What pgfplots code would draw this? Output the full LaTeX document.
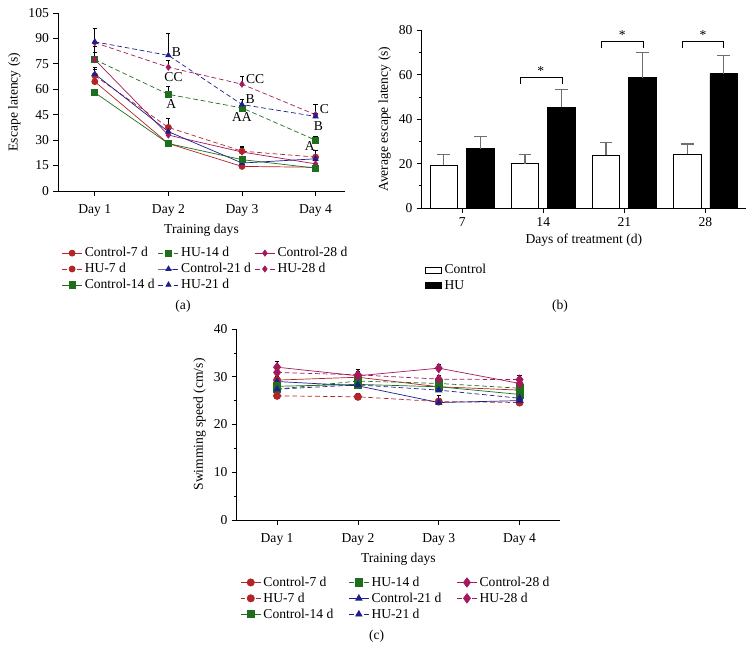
\documentclass[border=0pt]{standalone}
\usepackage{fontspec}
\setmainfont{Liberation Serif}
\usepackage{pgfplots}
\pgfplotsset{compat=1.18}

\definecolor{cred}{HTML}{B02528}
\definecolor{cgreen}{HTML}{1E6E1E}
\definecolor{cblue}{HTML}{1F1F8C}
\definecolor{cmag}{HTML}{A3195B}
\definecolor{errgray}{HTML}{6E6E6E}

\newcommand{\fs}{\fontsize{11.6}{13.8}\selectfont}

\pgfplotsset{
  panel/.style={
    scale only axis, axis lines=left, axis line style={-, line width=0.6pt},
    tick align=outside, tick style={black, line width=0.6pt},
    major tick length=0.15cm, minor tick length=0.09cm,
    font=\fs, clip=false,
    /pgf/number format/assume math mode=true,
    legend cell align=left,
  },
  dashes/.style={dash pattern=on 4pt off 2.5pt},
  errs/.style={error bars/.cd, y dir=plus, y explicit,
    error bar style={solid, black, line width=0.6pt},
    error mark options={solid, black, rotate=90, mark size=1.8pt, line width=0.6pt}},
  berrs/.style={error bars/.cd, y dir=plus, y explicit,
    error bar style={solid, errgray, line width=1pt},
    error mark options={solid, errgray, rotate=90, mark size=5.5pt, line width=1pt}},
  c7/.style={cred, solid, line width=0.6pt, mark=*, mark options={solid}},
  h7/.style={cred, dashes, line width=0.6pt, mark=*, mark options={solid}},
  c14/.style={cgreen, solid, line width=0.6pt, mark=square*, mark options={solid}},
  h14/.style={cgreen, dashes, line width=0.6pt, mark=square*, mark options={solid}},
  c21/.style={cblue, solid, line width=0.6pt, mark=triangle*, mark options={solid}},
  h21/.style={cblue, dashes, line width=0.6pt, mark=triangle*, mark options={solid}},
  c28/.style={cmag, solid, line width=0.6pt, mark=diamond*, mark options={solid}},
  h28/.style={cmag, dashes, line width=0.6pt, mark=diamond*, mark options={solid}},
}

\begin{document}
\begin{tikzpicture}
\useasboundingbox (0,0) rectangle (22.65,19.86);

% ---------- (a) escape latency ----------
\begin{axis}[panel,
  at={(1.74cm,14.13cm)}, anchor=south west,
  width=8.61cm, height=5.34cm,
  xmin=0.5, xmax=4.4, ymin=0, ymax=105,
  xtick={1,2,3,4}, xticklabels={Day 1,Day 2,Day 3,Day 4},
  xticklabel shift=3.5pt,
  ytick={0,15,...,105},
  xlabel={Training days}, ylabel={Escape latency (s)},
  mark size=2.6pt,
  legend columns=3,
  legend style={draw=none, fill=none, at={(0,-0.29)}, anchor=north west,
    font=\fs, /tikz/every even column/.append style={column sep=1pt}},
]
\addplot[c7, errs] coordinates {(1,64.5)+-(0,3)(2,28)+-(0,1)(3,14.5)+-(0,1)(4,14)+-(0,1)};
\addlegendentry{Control-7 d}
\addplot[h14, errs] coordinates {(1,77.5)+-(0,8)(2,57)+-(0,5)(3,49)+-(0,2)(4,30)+-(0,2.5)};
\addlegendentry{HU-14 d}
\addplot[c28, errs] coordinates {(1,77.5)+-(0,4)(2,33)+-(0,2)(3,23)+-(0,3)(4,16)+-(0,2)};
\addlegendentry{Control-28 d}
\addplot[h7, errs] coordinates {(1,68)+-(0,5)(2,37.5)+-(0,5.5)(3,23.5)+-(0,3)(4,20)+-(0,4)};
\addlegendentry{HU-7 d}
\addplot[c21, errs] coordinates {(1,69)+-(0,3)(2,35)+-(0,2)(3,16.5)+-(0,2)(4,19)+-(0,2)};
\addlegendentry{Control-21 d}
\addplot[h28, errs] coordinates {(1,87.5)+-(0,8.5)(2,73)+-(0,4)(3,63)+-(0,4.5)(4,45)+-(0,6)};
\addlegendentry{HU-28 d}
\addplot[c14, errs] coordinates {(1,58)+-(0,2)(2,28)+-(0,1)(3,18.5)+-(0,1)(4,13.5)+-(0,1)};
\addlegendentry{Control-14 d}
\addplot[h21, errs] coordinates {(1,88)+-(0,8)(2,80)+-(0,13)(3,51)+-(0,3)(4,44)+-(0,2)};
\addlegendentry{HU-21 d}
% significance letters
\node at (axis cs:2.11,82.2) {B};
\node at (axis cs:2.07,67) {CC};
\node at (axis cs:2.04,51.3) {A};
\node at (axis cs:3.18,65.9) {CC};
\node at (axis cs:3.11,54) {B};
\node at (axis cs:3.0,43.5) {AA};
\node at (axis cs:4.12,48.4) {C};
\node at (axis cs:4.04,38.3) {B};
\node at (axis cs:3.92,26.7) {A};
\end{axis}

% ---------- (b) average escape latency ----------
\begin{axis}[panel,
  at={(12.65cm,13.62cm)}, anchor=south west,
  width=9.73cm, height=5.33cm,
  ybar=0.27cm, bar width=0.83cm,
  xmin=-0.5, xmax=3.5, ymin=0, ymax=80,
  xtick={0,1,2,3}, xticklabels={7,14,21,28},
  ytick={0,20,...,80}, minor y tick num=1,
  xlabel={Days of treatment (d)}, ylabel={Average escape latency (s)},
  legend style={draw=none, fill=none, at={(0,-0.29)}, anchor=north west, font=\fs},
  legend image code/.code={\draw[#1] (0cm,-0.09cm) rectangle (0.48cm,0.09cm);},
]
\addplot[fill=white, draw=black, line width=0.7pt, berrs]
  coordinates {(0,19.2)+-(0,5)(1,20)+-(0,4.2)(2,23.7)+-(0,5.7)(3,24.2)+-(0,4.6)};
\addlegendentry{Control}
\addplot[fill=black, draw=black, line width=0.7pt, berrs]
  coordinates {(0,26.7)+-(0,5.6)(1,45.3)+-(0,8)(2,58.7)+-(0,11.3)(3,60.5)+-(0,8.1)};
\addlegendentry{HU}
\draw[black, line width=0.5pt] (axis cs:0.714,55.7) -- (axis cs:0.714,58.7) -- (axis cs:1.229,58.7) -- (axis cs:1.229,55.7);
\draw[black, line width=0.5pt] (axis cs:1.718,72) -- (axis cs:1.718,75) -- (axis cs:2.229,75) -- (axis cs:2.229,72);
\draw[black, line width=0.5pt] (axis cs:2.71,72) -- (axis cs:2.71,75) -- (axis cs:3.22,75) -- (axis cs:3.22,72);
\node at (axis cs:0.97,61.5) {*};
\node at (axis cs:1.975,78) {*};
\node at (axis cs:2.97,78) {*};
\end{axis}

% ---------- (c) swimming speed ----------
\begin{axis}[panel,
  at={(7.10cm,4.26cm)}, anchor=south west,
  width=9.70cm, height=5.73cm,
  xmin=0.5, xmax=4.5, ymin=0, ymax=40,
  xtick={1,2,3,4}, xticklabels={Day 1,Day 2,Day 3,Day 4},
  xticklabel shift=3.5pt,
  ytick={0,10,...,40}, minor y tick num=1,
  xlabel={Training days}, ylabel={Swimming speed (cm/s)},
  mark size=3.1pt,
  legend columns=3,
  legend style={draw=none, fill=none, at={(0,-0.272)}, anchor=north west,
    font=\fs, /tikz/every even column/.append style={column sep=11pt}},
]
\addplot[c7, errs] coordinates {(1,29.3)+-(0,0.8)(2,29.9)+-(0,0.8)(3,27.9)+-(0,0.8)(4,27.2)+-(0,0.8)};
\addlegendentry{Control-7 d}
\addplot[h14, errs] coordinates {(1,27.4)+-(0,0.8)(2,29.1)+-(0,0.8)(3,28.6)+-(0,0.8)(4,27.6)+-(0,0.8)};
\addlegendentry{HU-14 d}
\addplot[c28, mark size=4pt, errs] coordinates {(1,32.0)+-(0,1.3)(2,30.2)+-(0,1.4)(3,31.8)+-(0,0.8)(4,28.6)+-(0,0.8)};
\addlegendentry{Control-28 d}
\addplot[h7, errs] coordinates {(1,26.0)+-(0,0.8)(2,25.8)+-(0,0.8)(3,24.8)+-(0,1.2)(4,24.6)+-(0,0.8)};
\addlegendentry{HU-7 d}
\addplot[c21, errs] coordinates {(1,29.0)+-(0,0.8)(2,28.1)+-(0,0.8)(3,24.6)+-(0,0.8)(4,25.0)+-(0,0.8)};
\addlegendentry{Control-21 d}
\addplot[h28, mark size=4pt, errs] coordinates {(1,30.9)+-(0,0.8)(2,30.4)+-(0,0.8)(3,29.5)+-(0,0.8)(4,29.4)+-(0,0.8)};
\addlegendentry{HU-28 d}
\addplot[c14, errs] coordinates {(1,28.0)+-(0,0.8)(2,28.4)+-(0,0.8)(3,27.9)+-(0,0.8)(4,26.3)+-(0,0.8)};
\addlegendentry{Control-14 d}
\addplot[h21, errs] coordinates {(1,27.4)+-(0,0.8)(2,28.3)+-(0,0.8)(3,27.2)+-(0,0.8)(4,25.5)+-(0,0.8)};
\addlegendentry{HU-21 d}
\end{axis}

\node[font=\fs] at (5.49,10.68) {(a)};
\node[font=\fs] at (16.8,10.68) {(b)};
\node[font=\fs] at (11.30,0.76) {(c)};
\end{tikzpicture}
\end{document}
